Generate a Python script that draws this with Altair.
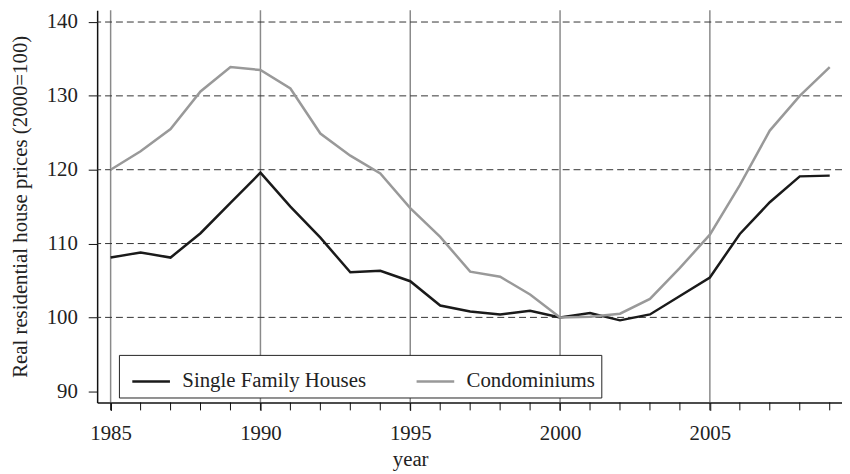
import altair as alt
import pandas as pd

years = list(range(1985, 2010))
single_family = [108.1, 108.8, 108.1, 111.4, 115.5, 119.6, 115.0, 110.8, 106.1, 106.3,
                 104.9, 101.6, 100.8, 100.4, 100.9, 100.0, 100.6, 99.6, 100.4, 102.9,
                 105.4, 111.3, 115.6, 119.1, 119.2]
condominiums = [120.0, 122.5, 125.5, 130.6, 133.9, 133.5, 131.0, 124.9, 121.9, 119.5,
                114.8, 110.9, 106.2, 105.5, 103.1, 100.0, 100.1, 100.5, 102.5, 106.7,
                111.2, 117.9, 125.3, 130.0, 133.9]
series_names = ["Single Family Houses", "Condominiums"]
series_colors = ["#1a1a1a", "#999999"]
y_ticks = [90, 100, 110, 120, 130, 140]
y_grid = [100, 110, 120, 130, 140]
x_labels = [1985, 1990, 1995, 2000, 2005]

FONT = "Liberation Serif"
PLOT_H = 396

df = pd.DataFrame({
    "year": years * 2,
    "value": single_family + condominiums,
    "series": [series_names[0]] * len(years) + [series_names[1]] * len(years),
})

xscale = alt.Scale(domain=[1984.55, 2009.41], nice=False, zero=False)
yscale = alt.Scale(domain=[88.48, 141.6], nice=False, zero=False)

vgrid = alt.Chart(pd.DataFrame({"g": x_labels})).mark_rule(
    color="#8a8a8a", strokeWidth=1.5
).encode(x=alt.X("g:Q", scale=xscale))

hgrid = alt.Chart(pd.DataFrame({"h": y_grid})).mark_rule(
    color="#333333", strokeWidth=1, strokeDash=[7, 4]
).encode(y=alt.Y("h:Q", scale=yscale))

# minor yearly ticks below the x axis
minor = alt.Chart(pd.DataFrame({"t": years})).mark_rule(
    color="#111111", strokeWidth=1
).encode(
    x=alt.X("t:Q", scale=xscale),
    y=alt.value(PLOT_H),
    y2=alt.value(PLOT_H + 8),
)

lines = alt.Chart(df).mark_line(strokeWidth=2.5).encode(
    x=alt.X(
        "year:Q", scale=xscale, title="year",
        axis=alt.Axis(
            values=x_labels, format="d", labelOverlap=False,
            tickSize=8, labelPadding=12, titlePadding=6, titleX=316,
            labelFlush=False,
        ),
    ),
    y=alt.Y(
        "value:Q", scale=yscale, title="Real residential house prices (2000=100)",
        axis=alt.Axis(values=y_ticks, tickSize=9, labelPadding=11, titlePadding=16,
                      labelOverlap=False),
    ),
    color=alt.Color(
        "series:N",
        scale=alt.Scale(domain=series_names, range=series_colors),
        sort=series_names,
        title=None,
        legend=alt.Legend(
            orient="none", legendX=22, legendY=348, direction="horizontal",
            symbolType="stroke", symbolSize=1444, symbolStrokeWidth=2.5,
            labelFontSize=21, labelFont=FONT, labelColor="#222222",
            labelOffset=11, columnPadding=43, padding=6, symbolOffset=6,
            strokeColor="#222222", fillColor="white", labelLimit=400,
        ),
    ),
)

chart = alt.layer(vgrid, hgrid, minor, lines).properties(
    width=752, height=PLOT_H,
    autosize=alt.AutoSizeParams(type="none"),
    padding={"left": 90, "top": 0, "right": 0, "bottom": 70},
).configure_view(stroke=None).configure_axis(
    grid=False, domainColor="#111111", domainWidth=1.5, tickColor="#111111",
    tickWidth=1, labelFont=FONT, labelFontSize=21, labelColor="#222222",
    titleFont=FONT, titleFontSize=21, titleColor="#222222", titleFontWeight="normal",
)

chart.save("out.html", embed_options={"renderer": "svg", "actions": False})
